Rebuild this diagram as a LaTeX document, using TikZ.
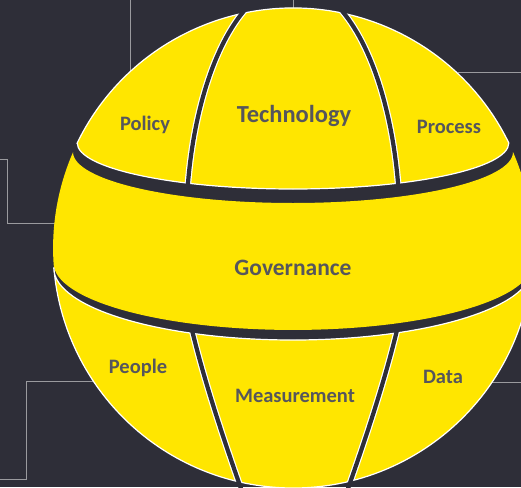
\documentclass[tikz,border=0pt]{standalone}
\usepackage{fontspec}
\setmainfont{Carlito}
\definecolor{bgdark}{HTML}{2E2E38}
\definecolor{globeyellow}{HTML}{FFE600}
\definecolor{labelgray}{HTML}{56565C}
\definecolor{leadgray}{HTML}{9A9A9E}
\tikzset{
  piece/.style={fill=globeyellow, draw=white, line width=1.2pt},
  band/.style={fill=globeyellow},
  seamedge/.style={draw=white, line width=6.6pt},
  seam/.style={draw=bgdark, line width=4.2pt},
  lead/.style={draw=leadgray, line width=1pt},
  lbl/.style={text=labelgray, font=\bfseries\fontsize{20.5}{24}\selectfont, anchor=base, inner sep=0pt},
  biglbl/.style={lbl, font=\bfseries\fontsize{23.5}{28}\selectfont},
  techlbl/.style={lbl, font=\bfseries\fontsize{24.5}{29}\selectfont}
}
\begin{document}
\begin{tikzpicture}[x=1pt,y=-1pt]
  % canvas
  \fill[bgdark] (0,0) rectangle (521,487);
  \useasboundingbox (0,0) rectangle (521,487);

  % leader lines running behind the globe
  \coordinate (la1) at (130,0);   \coordinate (la2) at (130,74);
  \coordinate (lb1) at (0,159);   \coordinate (lb2) at (7,159);
  \coordinate (lb3) at (7,223);   \coordinate (lb4) at (60,223);
  \coordinate (lc1) at (293,0);   \coordinate (lc2) at (293,12);
  \coordinate (ld1) at (458,72);  \coordinate (ld2) at (521,72);
  \coordinate (le1) at (0,479);   \coordinate (le2) at (26,479);
  \coordinate (le3) at (26,381);  \coordinate (le4) at (98,381);
  \coordinate (lf1) at (490,382); \coordinate (lf2) at (521,382);
  \draw[lead] (la1) -- (la2);
  \draw[lead] (lb1) -- (lb2) -- (lb3) -- (lb4);
  \draw[lead] (lc1) -- (lc2);
  \draw[lead] (ld1) -- (ld2);
  \draw[lead] (le1) -- (le2) -- (le3) -- (le4);
  \draw[lead] (lf1) -- (lf2);

  % upper cap: sphere arc closed by a flattened ellipse
  \def\uppercap{(77.2,143) arc[start angle=205.94, end angle=334.06, radius=240]
    arc[start angle=0, end angle=180, x radius=215.8, y radius=46] -- cycle}
  \path[piece] \uppercap;
  \begin{scope}
    \clip \uppercap;
    \draw[seamedge] (187.3,191.9) arc[start angle=188.9, end angle=245.9, x radius=107, y radius=246.5];
    \draw[seamedge] (398.7,191.9) arc[start angle=351.1, end angle=294.1, x radius=107, y radius=246.5];
  \end{scope}
  \draw[seam] (187.3,191.9) arc[start angle=188.9, end angle=245.9, x radius=107, y radius=246.5];
  \draw[seam] (398.7,191.9) arc[start angle=351.1, end angle=294.1, x radius=107, y radius=246.5];

  % middle band
  \path[band] (73,152) arc[start angle=180, end angle=0, x radius=220, y radius=51]
    arc[start angle=-23.57, end angle=3.58, radius=240]
    arc[start angle=0, end angle=180, x radius=239.5, y radius=67]
    arc[start angle=176.42, end angle=203.57, radius=240] -- cycle;

  % lower cap
  \def\lowercap{(53.8,268) arc[start angle=180, end angle=0, x radius=239.2, y radius=72]
    arc[start angle=4.78, end angle=175.22, radius=240] -- cycle}
  \path[piece] \lowercap;
  \begin{scope}
    \clip \lowercap;
    \draw[seamedge] (191.5,328) .. controls (204,380) and (221.8,434) .. (241.5,490);
    \draw[seamedge] (397.5,328) .. controls (385,380) and (367.2,434) .. (347.5,490);
  \end{scope}
  \draw[seam] (191.5,328) .. controls (204,380) and (221.8,434) .. (241.5,490);
  \draw[seam] (397.5,328) .. controls (385,380) and (367.2,434) .. (347.5,490);

  % labels
  \node[lbl]     (policy)  at (145,130) {Policy};
  \node[techlbl] (tech)    at (294,122) {Technology};
  \node[lbl]     (process) at (449,133) {Process};
  \node[biglbl]  (gov)     at (293,275) {Governance};
  \node[lbl]     (people)  at (138,373) {People};
  \node[lbl]     (measure) at (295,402) {Measurement};
  \node[lbl]     (data)    at (443,383) {Data};
\end{tikzpicture}
\end{document}
